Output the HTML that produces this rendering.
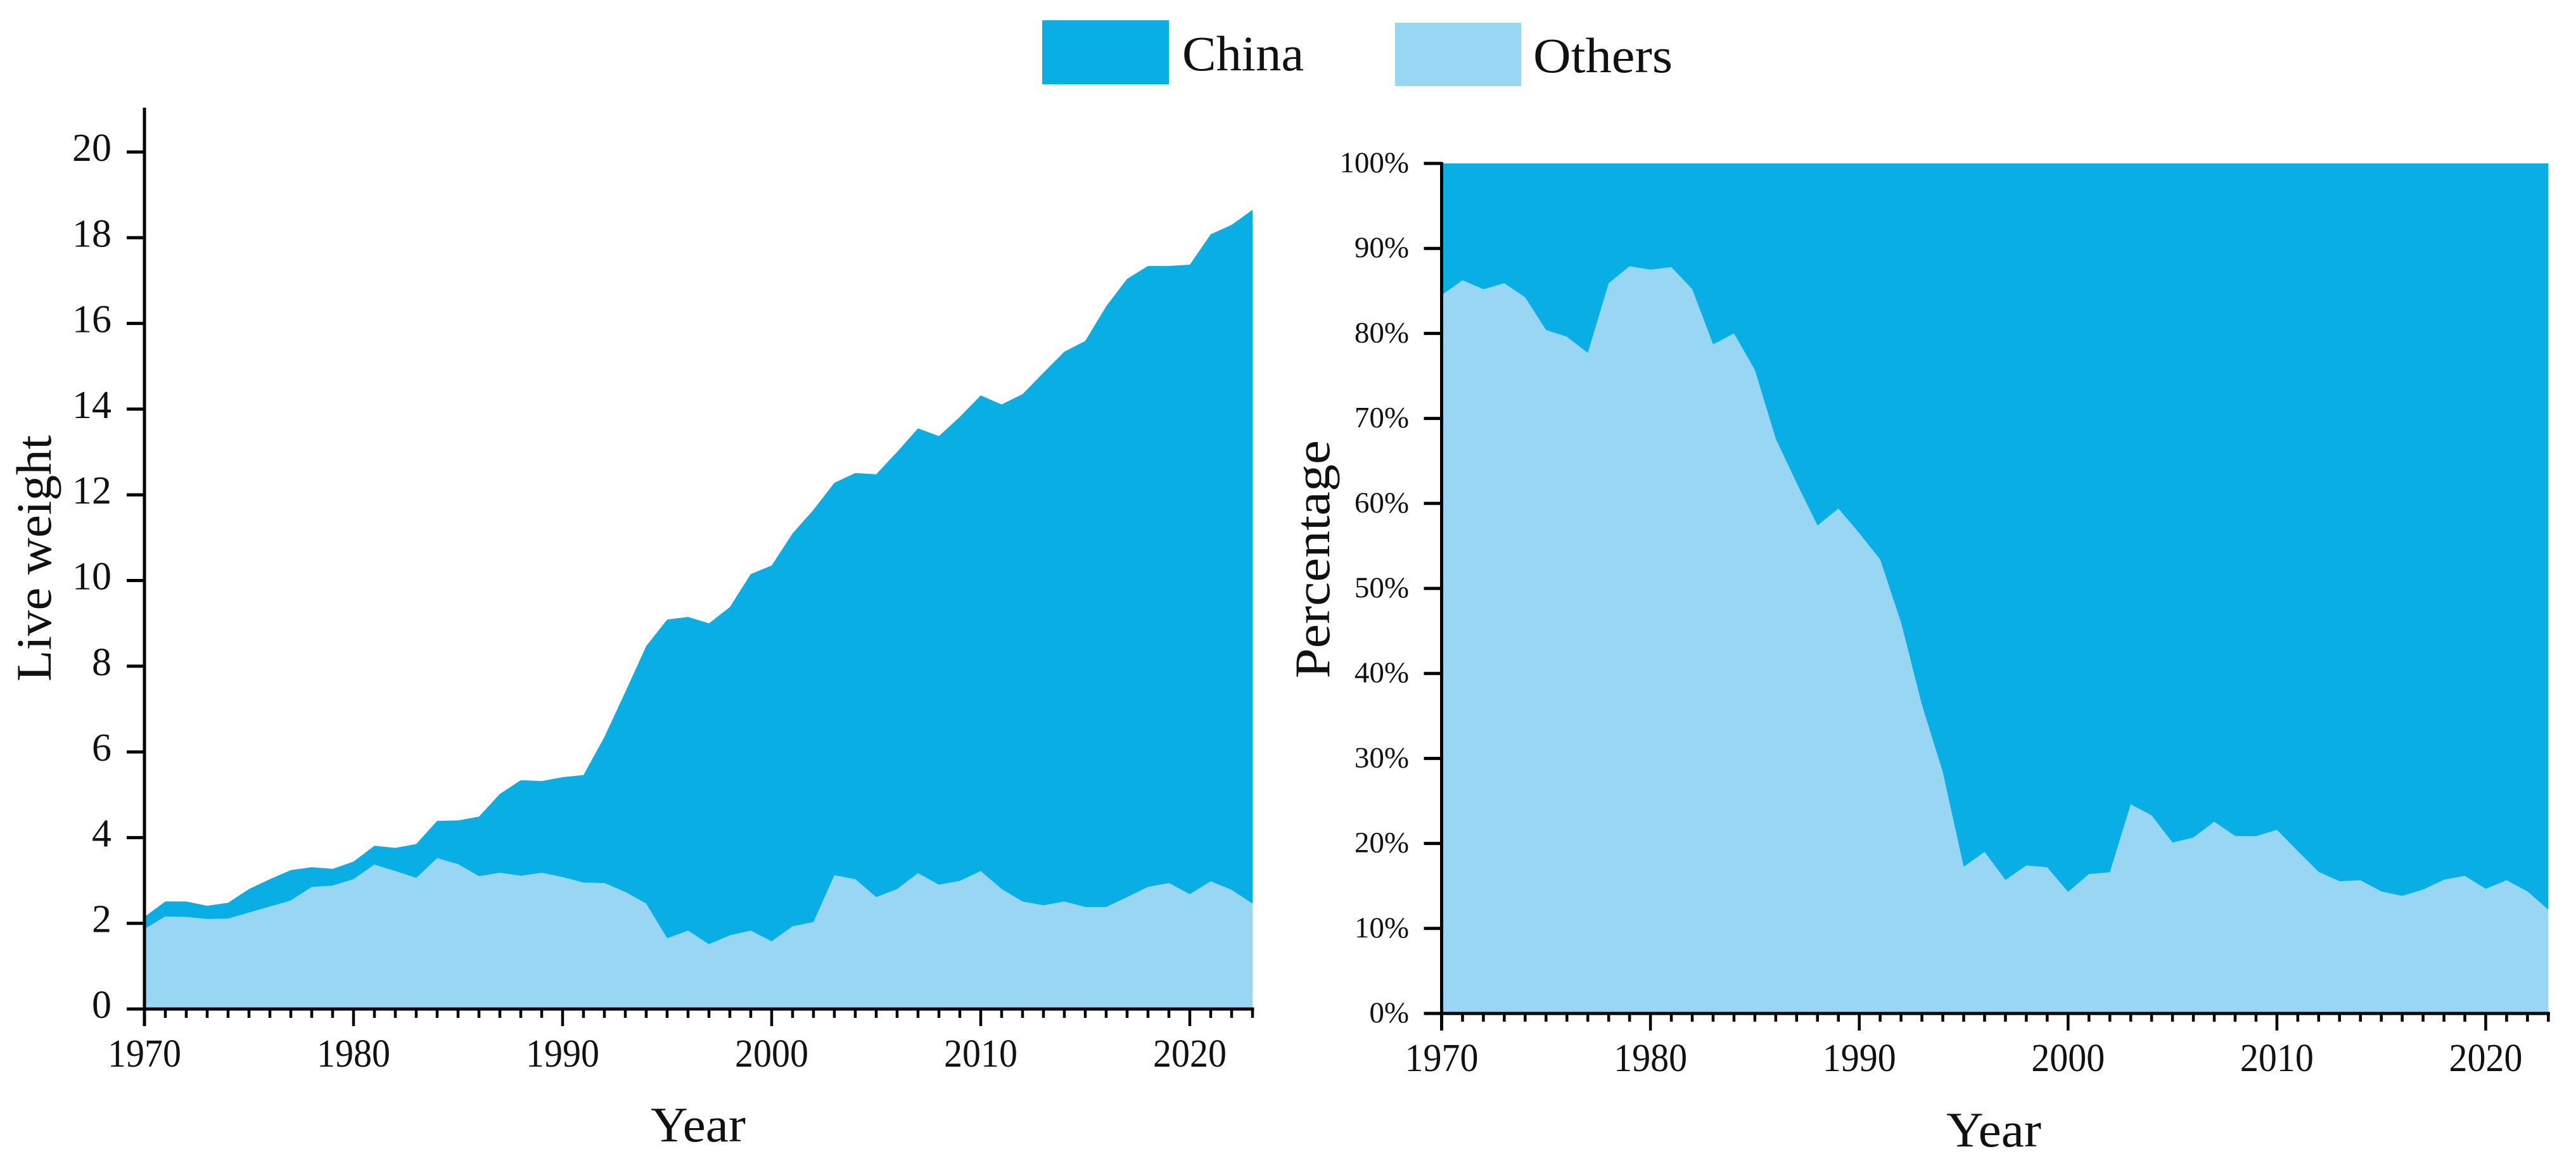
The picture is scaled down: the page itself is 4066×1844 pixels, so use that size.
<!DOCTYPE html>
<html lang="en">
<head>
<meta charset="utf-8">
<title>Live weight: China and Others, 1970-2023</title>
<style>
  html, body { margin: 0; padding: 0; background: #ffffff; }
  svg { display: block; }
  text { font-family: "Liberation Serif", "DejaVu Serif", serif; fill: #111111; }
</style>
</head>
<body>
<svg id="figure" xmlns="http://www.w3.org/2000/svg" width="4066" height="1844" viewBox="0 0 4066 1844">
  <g>
    <rect x="1645" y="32" width="200" height="101" fill="#09AEE4"></rect>
    <text x="1866" y="111" font-size="78" textLength="192" lengthAdjust="spacingAndGlyphs">China</text>
    <rect x="2202" y="36" width="199" height="100" fill="#99D6F4"></rect>
    <text x="2420" y="114" font-size="78" textLength="220" lengthAdjust="spacingAndGlyphs">Others</text>
  </g>
  <g id="left-chart"></g>
  <g id="right-chart"></g>
  <text transform="translate(80 1076) rotate(-90)" font-size="78" textLength="389" lengthAdjust="spacingAndGlyphs">Live weight</text>
  <text x="1027" y="1802" font-size="78" textLength="150" lengthAdjust="spacingAndGlyphs">Year</text>
  <text transform="translate(2098 1071) rotate(-90)" font-size="78" textLength="376" lengthAdjust="spacingAndGlyphs">Percentage</text>
  <text x="3072" y="1810" font-size="78" textLength="150" lengthAdjust="spacingAndGlyphs">Year</text>
</svg>
<script>
const years = [1970,1971,1972,1973,1974,1975,1976,1977,1978,1979,1980,1981,1982,1983,1984,1985,1986,1987,1988,1989,1990,1991,1992,1993,1994,1995,1996,1997,1998,1999,2000,2001,2002,2003,2004,2005,2006,2007,2008,2009,2010,2011,2012,2013,2014,2015,2016,2017,2018,2019,2020,2021,2022,2023];
const othersWeight = [1.87,2.16,2.15,2.10,2.11,2.25,2.39,2.53,2.85,2.88,3.03,3.37,3.22,3.06,3.52,3.38,3.10,3.18,3.11,3.18,3.08,2.95,2.94,2.73,2.46,1.65,1.83,1.51,1.72,1.83,1.58,1.93,2.03,3.12,3.03,2.61,2.80,3.17,2.90,2.99,3.22,2.80,2.51,2.42,2.51,2.38,2.38,2.61,2.85,2.94,2.68,2.98,2.78,2.46];
const chinaWeight = [0.28,0.35,0.36,0.31,0.37,0.55,0.64,0.71,0.46,0.39,0.41,0.44,0.54,0.79,0.87,1.02,1.39,1.84,2.23,2.14,2.33,2.51,3.41,4.67,6.01,7.44,7.32,7.49,7.66,8.32,8.77,9.17,9.62,9.16,9.48,9.87,10.20,10.38,10.47,10.83,11.10,11.31,11.84,12.43,12.83,13.21,14.02,14.43,14.49,14.40,14.69,15.10,15.52,16.19];
const othersShare = [84.5,86.25,85.2,85.9,84.25,80.4,79.6,77.7,85.9,87.9,87.5,87.8,85.2,78.7,80.0,75.7,67.6,62.4,57.4,59.4,56.5,53.4,46.0,36.3,28.4,17.25,19.0,15.7,17.4,17.2,14.3,16.4,16.6,24.6,23.3,20.1,20.7,22.55,20.87,20.84,21.6,19.1,16.65,15.55,15.67,14.35,13.83,14.57,15.73,16.19,14.66,15.67,14.35,12.2];
const chinaShare = [15.5,13.75,14.8,14.1,15.75,19.6,20.4,22.3,14.1,12.1,12.5,12.2,14.8,21.3,20.0,24.3,32.4,37.6,42.6,40.6,43.5,46.6,54.0,63.7,71.6,82.75,81.0,84.3,82.6,82.8,85.7,83.6,83.4,75.4,76.7,79.9,79.3,77.45,79.13,79.16,78.4,80.9,83.35,84.45,84.33,85.65,86.17,85.43,84.27,83.81,85.34,84.33,85.65,87.8];
const weightTicks = [0,2,4,6,8,10,12,14,16,18,20];
const shareTicks = [0,10,20,30,40,50,60,70,80,90,100];
const decadeTicks = [1970,1980,1990,2000,2010,2020];

const SVG_NS = 'http://www.w3.org/2000/svg';
const CHINA_COLOR = '#09AEE4';
const OTHERS_COLOR = '#99D6F4';

function xLeft(year) { return 228 + (year - 1970) * 33; }
function yLeft(value) { return 1593 - value * 67.65; }
function xRight(year) { return 2275.5 + (year - 1970) * 32.96; }
function yRight(value) { return 1600 - value * 13.42; }

function stackArea(parent, name, xFn, yFn, lower, upper, color) {
  const el = document.createElementNS(SVG_NS, 'polygon');
  
  
  const top = years.map((y, i) => xFn(y).toFixed(1) + ',' + yFn(lower[i] + upper[i]).toFixed(1));
  const bottom = years.map((y, i) => xFn(y).toFixed(1) + ',' + yFn(lower[i]).toFixed(1)).reverse();
  el.setAttribute('points', top.concat(bottom).join(' '));
  el.setAttribute('fill', color);
  parent.appendChild(el);
}

function line(parent, name, x1, y1, x2, y2, width) {
  const el = document.createElementNS(SVG_NS, 'line');
  
  
  el.setAttribute('x1', x1);
  el.setAttribute('y1', y1);
  el.setAttribute('x2', x2);
  el.setAttribute('y2', y2);
  el.setAttribute('stroke', '#000000');
  el.setAttribute('stroke-width', width);
  parent.appendChild(el);
}

function label(parent, name, x, y, content, size, anchor, length) {
  const el = document.createElementNS(SVG_NS, 'text');
  
  
  el.setAttribute('x', x);
  el.setAttribute('y', y);
  el.setAttribute('font-size', size);
  el.setAttribute('text-anchor', anchor);
  if (length) {
    el.setAttribute('textLength', length);
    el.setAttribute('lengthAdjust', 'spacingAndGlyphs');
  }
  el.textContent = content;
  parent.appendChild(el);
}

function drawChart(opts) {
  const g = document.getElementById(opts.id);
  const zero = opts.yFn(0);
  const x0 = opts.xFn(years[0]);
  const xEnd = opts.xFn(years[years.length - 1]);

  stackArea(g, opts.prefix + '-area-others', opts.xFn, opts.yFn, opts.others.map(() => 0), opts.others, OTHERS_COLOR);
  stackArea(g, opts.prefix + '-area-china', opts.xFn, opts.yFn, opts.others, opts.china, CHINA_COLOR);

  line(g, opts.prefix + '-y-axis', x0, opts.axisTop, x0, zero + opts.majorLen, 5);
  line(g, opts.prefix + '-x-axis', x0 - opts.tickLeft, zero, xEnd + 2.5, zero, 5);

  opts.yTicks.forEach(v => {
    const y = opts.yFn(v);
    line(g, opts.prefix + '-y-tick-' + v, x0 - opts.tickLeft, y, x0, y, 5);
    label(g, opts.prefix + '-y-label-' + v, opts.yLabelX, y + 14, v + opts.suffix, opts.yFont, 'end', 0);
  });

  years.forEach(yr => {
    const x = opts.xFn(yr);
    const isMajor = decadeTicks.indexOf(yr) !== -1;
    if (isMajor && yr === years[0]) return;
    line(g, opts.prefix + '-x-tick-' + yr, x, zero, x, zero + (isMajor ? opts.majorLen : opts.minorLen), 4.5);
  });

  decadeTicks.forEach(yr => {
    label(g, opts.prefix + '-x-label-' + yr, opts.xFn(yr), opts.xLabelY, String(yr), 62, 'middle', 116);
  });
}

drawChart({
  id: 'left-chart', prefix: 'weight', xFn: xLeft, yFn: yLeft,
  others: othersWeight, china: chinaWeight, yTicks: weightTicks, suffix: '',
  axisTop: 170, tickLeft: 28, majorLen: 27, minorLen: 14,
  yLabelX: 176, yFont: 62, xLabelY: 1684
});

drawChart({
  id: 'right-chart', prefix: 'share', xFn: xRight, yFn: yRight,
  others: othersShare, china: chinaShare, yTicks: shareTicks, suffix: '%',
  axisTop: 256, tickLeft: 28, majorLen: 27, minorLen: 13,
  yLabelX: 2224, yFont: 47, xLabelY: 1691
});
</script>
</body>
</html>
